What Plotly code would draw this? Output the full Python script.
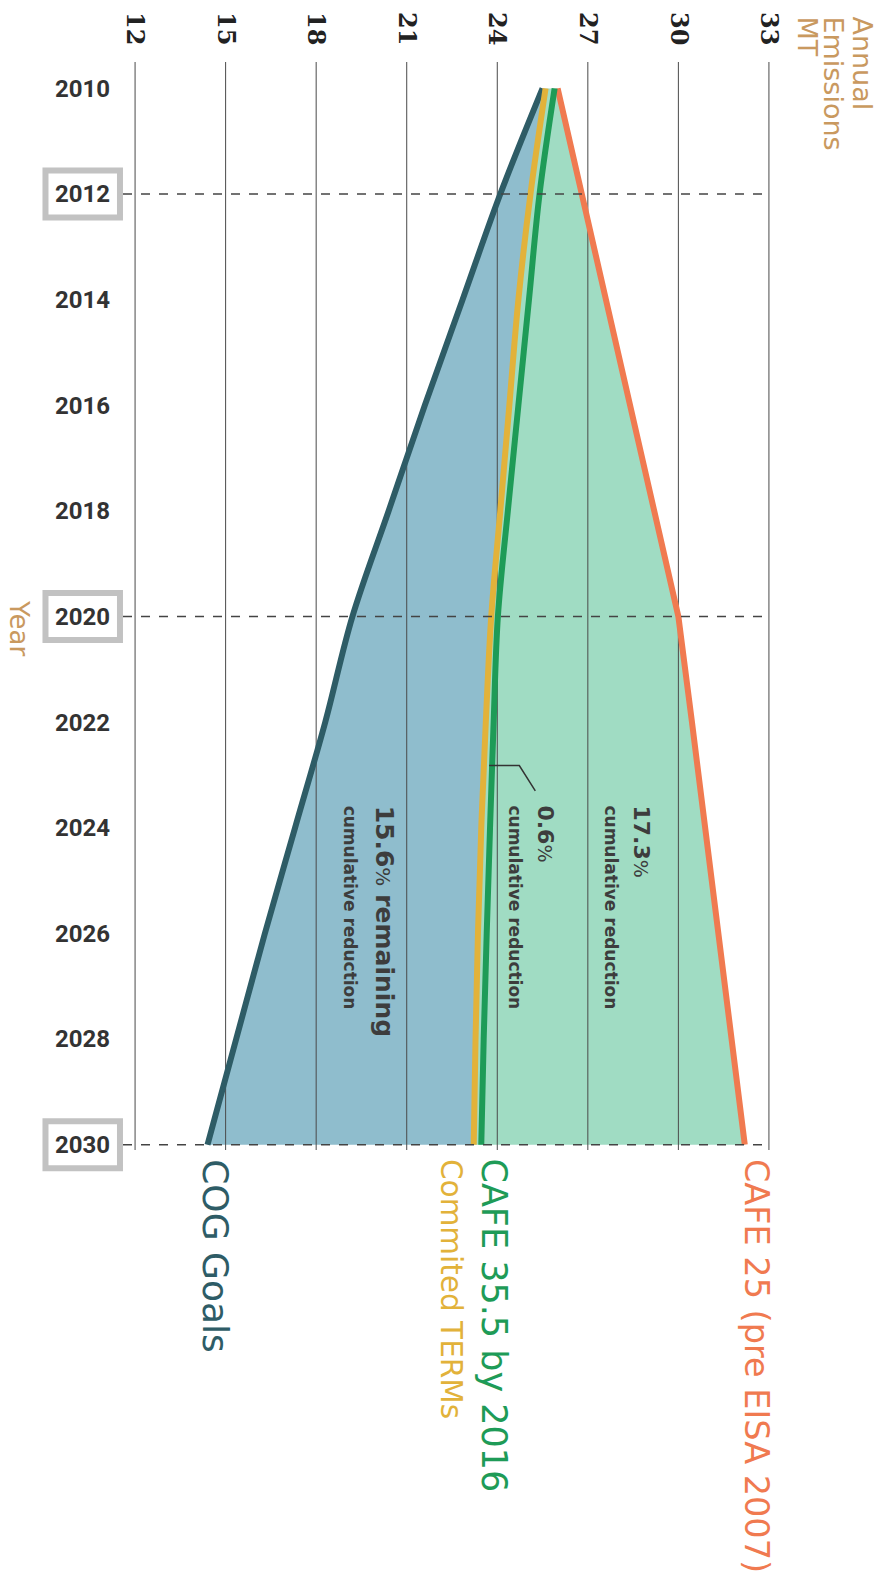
import plotly.graph_objects as go

# ---------------- data ----------------
years = [2010, 2012, 2014, 2016, 2018, 2020, 2022, 2024, 2026, 2028, 2030]
cog_goals = [25.5, 24.1, 22.85, 21.6, 20.4, 19.2, 18.3, 17.3, 16.3, 15.35, 14.4]
committed_terms = [25.6, 25.1, 24.7, 24.4, 24.1, 23.8, 23.62, 23.47, 23.36, 23.28, 23.22]
cafe_355 = [25.9, 25.4, 25.05, 24.7, 24.35, 24.02, 23.88, 23.76, 23.65, 23.55, 23.47]
cafe_25 = [26.0, 26.8, 27.6, 28.4, 29.2, 30.0, 30.45, 30.88, 31.32, 31.78, 32.2]

x_ticks = [12, 15, 18, 21, 24, 27, 30, 33]
x_ticktext = ["12", "15", "18", "21", "24", "27", "30", "33"]
y_ticks = [2010, 2012, 2014, 2016, 2018, 2020, 2022, 2024, 2026, 2028, 2030]
y_ticktext = [str(y) for y in y_ticks]
highlight_years = [2012, 2020, 2030]

series_labels = ["COG Goals", "Commited TERMs", "CAFE 35.5 by 2016", "CAFE 25 (pre EISA 2007)"]

# ---------------- style ----------------
C_COG = "#2e5c66"
C_YEL = "#e2b23a"
C_GRN = "#1e9b57"
C_ORG = "#f07a50"
F_BLUE = "#8fbdcd"
F_MINT = "#a0dcc3"
TAN = "#c9995f"

X_RANGE = [11.6, 33.4]
Y_RANGE = [2030.1, 2009.5]


def ypaper(yr):
    return (Y_RANGE[0] - yr) / (Y_RANGE[0] - Y_RANGE[1])


fig = go.Figure()

# fills
fig.add_trace(go.Scatter(x=committed_terms, y=years, mode="lines",
                         line=dict(width=0, shape="spline", color=C_YEL), showlegend=False))
fig.add_trace(go.Scatter(x=cog_goals, y=years, mode="lines", fill="tonextx", fillcolor=F_BLUE,
                         line=dict(width=0, shape="spline", color=C_COG), showlegend=False))
fig.add_trace(go.Scatter(x=committed_terms, y=years, mode="lines",
                         line=dict(width=0, shape="spline", color=C_YEL), showlegend=False))
fig.add_trace(go.Scatter(x=cafe_25, y=years, mode="lines", fill="tonextx", fillcolor=F_MINT,
                         line=dict(width=0, color=C_ORG), showlegend=False))

# vertical grid lines (above the fills, below the series lines)
gx, gy = [], []
for t in x_ticks:
    gx += [t, t, None]
    gy += [Y_RANGE[1], Y_RANGE[0], None]
fig.add_trace(go.Scatter(x=gx, y=gy, mode="lines", line=dict(color="#4a4a4a", width=1),
                         showlegend=False, hoverinfo="skip"))

# series lines
fig.add_trace(go.Scatter(x=cafe_25, y=years, mode="lines",
                         line=dict(width=6, color=C_ORG), showlegend=False))
fig.add_trace(go.Scatter(x=cog_goals, y=years, mode="lines",
                         line=dict(width=6, color=C_COG, shape="spline"), showlegend=False))
fig.add_trace(go.Scatter(x=committed_terms, y=years, mode="lines",
                         line=dict(width=6, color=C_YEL, shape="spline"), showlegend=False))
fig.add_trace(go.Scatter(x=cafe_355, y=years, mode="lines",
                         line=dict(width=6, color=C_GRN, shape="spline"), showlegend=False))

PLOT_H = 1585 - 59.5 - 434.7
box_half = 23.5 / PLOT_H
shapes = []
for yr in highlight_years:
    shapes.append(dict(type="line", xref="x", yref="y", x0=X_RANGE[0], x1=33, y0=yr, y1=yr,
                       line=dict(color="#444", width=1.5, dash="dash"), layer="above"))
    shapes.append(dict(type="rect", xref="paper", yref="paper", x0=-0.1178, x1=-0.0046,
                       y0=ypaper(yr) - box_half, y1=ypaper(yr) + box_half,
                       line=dict(color="#c2c2c2", width=6), fillcolor="rgba(0,0,0,0)", layer="above"))
# leader line for 0.6 %
shapes.append(dict(type="path", xref="x", yref="y",
                   path="M 23.73 2022.82 L 24.73 2022.82 L 25.26 2023.30",
                   line=dict(color="#333", width=1.5), layer="above"))

annotations = []
# axis titles
for txt, xp in [("Annual", 1.1235), ("Emissions", 1.0794), ("MT", 1.0399)]:
    annotations.append(dict(text=txt, xref="paper", yref="paper", x=xp, y=1.0435,
                            xanchor="center", yanchor="top", textangle=90, showarrow=False,
                            font=dict(family="DejaVu Sans", size=27, color=TAN)))
annotations.append(dict(text="Year", xref="paper", yref="paper", x=-0.158, y=0.4797,
                        xanchor="center", yanchor="middle", textangle=90, showarrow=False,
                        font=dict(family="DejaVu Sans", size=26, color=TAN)))

# end labels
end_vals = [cog_goals[-1], committed_terms[-1], cafe_355[-1], cafe_25[-1]]
label_colors = [C_COG, C_YEL, C_GRN, C_ORG]
label_shift = [8, -22, 13, 11]
label_sizes = [36, 29.5, 35, 33.5]
for lab, v, col, sh, fs in zip(series_labels, end_vals, label_colors, label_shift, label_sizes):
    annotations.append(dict(text=lab, xref="x", yref="y", x=v, y=2030, xshift=sh, yshift=-12,
                            xanchor="center", yanchor="top", textangle=90, showarrow=False,
                            font=dict(family="DejaVu Sans", size=fs, color=col)))


# inner reduction notes
def note(big, rest, size_big):
    return ("<b>" + big + "</b><span style='font-size:%dpx;font-weight:normal'>%%</span>" % int(size_big * 0.8)
            + rest + "<br><b><span style='font-size:17px'>cumulative reduction</span></b>")


annotations.append(dict(text=note("17.3", "", 24), xref="x", yref="y", x=28.3, y=2023.54,
                        xanchor="center", yanchor="top", textangle=90, showarrow=False, align="left",
                        font=dict(family="DejaVu Sans", size=22, color="#3d3d3d")))
annotations.append(dict(text=note("0.6", "", 24), xref="x", yref="y", x=25.12, y=2023.54,
                        xanchor="center", yanchor="top", textangle=90, showarrow=False, align="left",
                        font=dict(family="DejaVu Sans", size=22, color="#3d3d3d")))
annotations.append(dict(text=note("15.6", " <b>remaining</b>", 25), xref="x", yref="y", x=19.78, y=2023.54,
                        xanchor="center", yanchor="top", textangle=90, showarrow=False, align="left",
                        font=dict(family="DejaVu Sans", size=25, color="#3d3d3d")))

fig.update_layout(
    width=882, height=1585,
    margin=dict(l=123, r=101.3, t=59.5, b=434.7, pad=0),
    paper_bgcolor="white", plot_bgcolor="white",
    showlegend=False,
    shapes=shapes, annotations=annotations,
    xaxis=dict(range=X_RANGE, side="top", tickvals=x_ticks, ticktext=x_ticktext, tickangle=90,
               showgrid=False, zeroline=False, showline=False, ticks="", ticklabelstandoff=12,
               tickfont=dict(family="DejaVu Serif", size=24, color="#222", weight="bold")),
    yaxis=dict(range=Y_RANGE, tickvals=y_ticks, ticktext=y_ticktext,
               showgrid=False, zeroline=False, showline=False, ticks="", ticklabelstandoff=12,
               tickfont=dict(family="Roboto", size=24, color="#333", weight="bold")),
)

fig.write_html("out.html")
